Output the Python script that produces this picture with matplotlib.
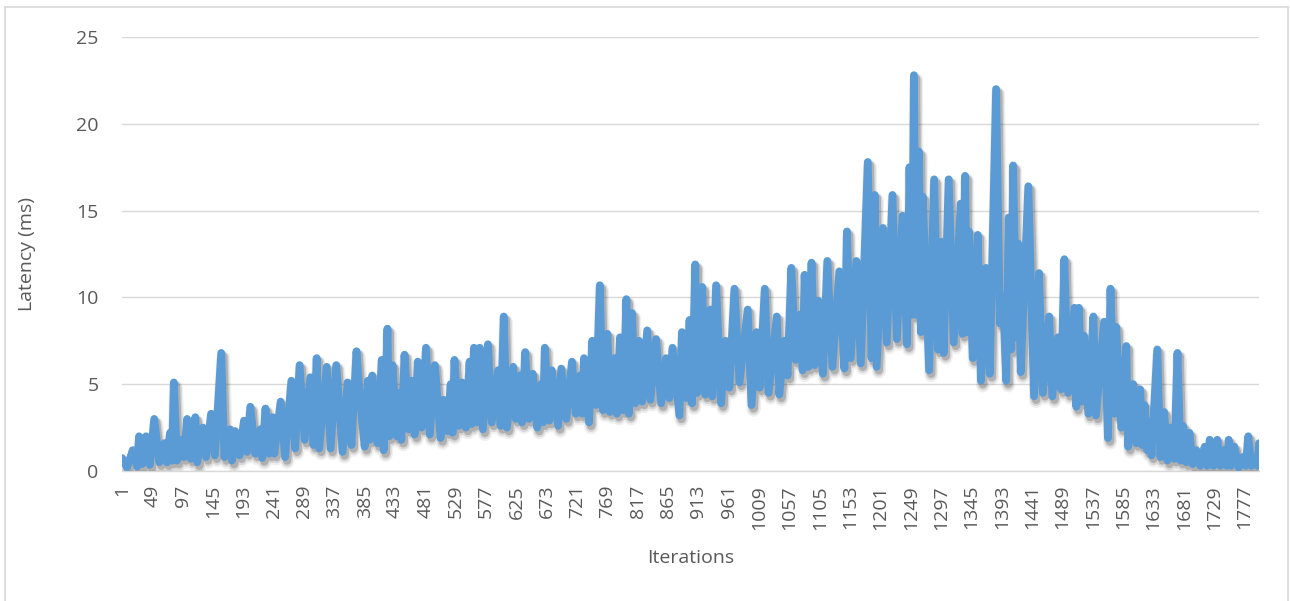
import matplotlib
matplotlib.use("Agg")
import matplotlib.pyplot as plt
import matplotlib.patheffects as pe
from matplotlib.lines import Line2D

# Readings (iteration, latency in ms) taken along the peaks and troughs of the trace
iterations = [
    1, 9, 18, 25, 28, 33, 39, 45, 52, 60, 68, 72, 77, 80, 83, 88, 95, 99, 104, 110,
    117, 120, 129, 134, 142, 148, 158, 163, 172, 175, 180, 187, 194, 199, 204, 212,
    220, 223, 228, 234, 239, 242, 252, 259, 269, 275, 282, 290, 299, 304, 309, 313,
    325, 331, 340, 350, 358, 364, 372, 378, 385, 390, 393, 397, 405, 412, 415, 421,
    424, 429, 436, 439, 443, 448, 455, 459, 464, 469, 475, 482, 488, 496, 505, 510,
    516, 521, 524, 527, 534, 539, 545, 551, 554, 558, 562, 567, 572, 580, 586, 596,
    600, 605, 610, 620,
    624, 631, 634, 639, 645, 651, 658, 664, 667, 670, 677, 681, 691, 696, 704, 713,
    719, 726, 729, 732, 740, 745, 751, 757, 762, 769, 773, 780, 784, 789, 794, 799,
    803, 808, 813, 819, 824, 832, 837, 846, 854, 862, 867, 872, 883, 887, 894, 899,
    903, 908, 911, 919, 924, 932, 935,
    941, 949, 956, 962, 970, 978, 991, 997, 1005, 1010, 1018, 1024, 1037, 1041, 1049,
    1054, 1060, 1067, 1073, 1078, 1081, 1087, 1092, 1097, 1103, 1110, 1117, 1125, 1136,
    1144, 1148, 1154, 1163, 1170, 1181, 1187, 1192, 1195, 1205, 1211, 1220, 1227, 1236,
    1243, 1247, 1251, 1254, 1257, 1262, 1265, 1268, 1278, 1286, 1292, 1297, 1301, 1309,
    1317, 1328, 1331, 1335, 1338, 1341, 1347, 1355, 1360, 1368, 1374, 1384, 1390, 1395,
    1400, 1404, 1408, 1411, 1416, 1419, 1423, 1435, 1444, 1452, 1458, 1468, 1473, 1482,
    1487, 1492, 1498, 1508, 1511, 1515, 1520, 1523, 1530, 1538, 1542, 1555, 1561, 1565,
    1571, 1574, 1582, 1590, 1593, 1601, 1606, 1612, 1615, 1619, 1623, 1626, 1630, 1639,
    1644, 1650, 1655, 1661, 1666, 1671, 1676, 1680, 1685, 1690, 1695, 1701, 1707, 1714,
    1718, 1722, 1728, 1734, 1739, 1744, 1749, 1752, 1756, 1761, 1768, 1774, 1779, 1783,
    1788, 1795, 1798, 1800,
]
latency = [
    0.75, 0.2, 1.2, 0.25, 2.0, 0.4, 2.0, 0.35, 3.0, 0.5, 1.6, 0.5, 2.2, 0.6, 5.1, 0.6, 1.8, 0.8, 3.0, 0.7,
    3.1, 0.5, 2.5, 0.8, 3.3, 0.9, 6.8, 0.8, 2.4, 0.6, 2.3, 0.9, 2.9, 1.1, 3.7, 1.0,
    2.4, 0.75, 3.6, 1.0, 3.1, 1.0, 4.0, 0.8, 5.2, 1.3, 6.1, 1.8, 5.4, 1.5, 6.5, 1.3,
    6.0, 1.3, 6.1, 1.1, 5.1, 1.5, 6.9, 4.0, 1.4, 5.2, 1.8, 5.5, 1.6, 6.4, 1.2, 8.2,
    2.0, 6.1, 2.0, 4.5, 1.8, 6.7, 2.4, 5.2, 2.1, 6.3, 2.5, 7.1, 2.1, 6.1, 1.9, 4.1,
    2.3, 5.0, 2.2, 6.4, 2.6, 5.1, 2.5, 6.3, 2.7, 7.1, 2.8, 7.1, 2.4, 7.3, 2.8, 5.8,
    2.6, 8.9, 2.5, 6.0,
    3.0, 5.5, 2.8, 6.85, 3.0, 5.6, 2.5, 5.0, 2.8, 7.1, 2.9, 5.8, 2.6, 5.9, 3.0, 6.3,
    3.3, 5.5, 3.3, 6.5, 2.8, 7.5, 3.8, 10.7, 3.5, 7.9, 3.4, 6.5, 3.3, 7.7, 3.5, 9.9,
    3.3, 9.1, 3.9, 7.5, 4.0, 8.1, 4.1, 7.6, 3.9, 6.5, 4.2, 7.1, 3.2, 8.0, 4.2, 8.7,
    3.9, 11.9, 4.5, 10.6, 4.4, 9.3, 4.3,
    10.7, 3.9, 7.5, 4.8, 10.5, 5.1, 9.3, 3.8, 8.0, 4.8, 10.5, 4.5, 8.9, 4.4, 7.5,
    5.5, 11.7, 6.4, 9.0, 5.8, 11.3, 6.0, 12.0, 6.1, 9.8, 5.6, 12.1, 6.0, 11.5,
    5.9, 13.8, 6.5, 12.1, 6.2, 17.8, 6.5, 15.9, 6.0, 14.0, 7.4, 15.9, 7.6, 14.7,
    7.3, 17.5, 9.0, 22.8, 9.0, 18.4, 8.0, 15.8, 5.8, 16.8, 7.0, 13.2, 6.8, 16.8,
    7.4, 15.4, 7.9, 17.0, 8.0, 13.8, 6.5, 13.6, 5.2, 11.7, 5.6, 22.0, 8.5, 10.0,
    5.2, 14.6, 7.0, 17.6, 7.7, 13.1, 5.7, 16.4, 4.3, 11.4, 4.5, 8.9, 4.3, 7.7,
    4.7, 12.2, 4.5, 9.4, 3.7, 9.4, 4.0, 7.8, 3.3, 8.9, 3.2, 8.6, 1.9, 10.5,
    3.3, 8.3, 2.5, 7.2, 1.4, 5.0, 1.6, 4.7, 1.5, 3.8, 1.2, 2.8, 0.9, 7.0,
    0.8, 3.4, 0.6, 2.5, 0.7, 6.8, 0.6, 2.6, 0.5, 2.2, 0.4, 1.2, 0.3, 1.4,
    0.3, 1.8, 0.3, 1.8, 0.3, 1.2, 0.3, 1.8, 0.3, 1.4, 0.2, 0.8, 0.3, 2.0,
    0.3, 0.8, 0.3, 1.6,
]
tick_labels = list(range(1, 1778, 48))
y_ticks = [0, 5, 10, 15, 20, 25]
n_iterations = 1800

plt.rcParams["font.family"] = ["Open Sans", "DejaVu Sans"]
text_color = "#595959"
grid_color = "#D9D9D9"
line_color = "#5B9BD5"

W, H = 1290, 601
fig = plt.figure(figsize=(W / 100, H / 100), dpi=100)
fig.patch.set_facecolor("white")

# outer chart border
fig.add_artist(Line2D([5 / W, 5 / W], [0, 1 - 7 / H], color=grid_color, lw=1.2, transform=fig.transFigure))
fig.add_artist(Line2D([5 / W, 1288 / W], [1 - 7 / H, 1 - 7 / H], color=grid_color, lw=1.2, transform=fig.transFigure))
fig.add_artist(Line2D([1288 / W, 1288 / W], [0, 1 - 7 / H], color=grid_color, lw=1.2, transform=fig.transFigure))

left, right, top, bottom = 122, 1259, 37, 471
ax = fig.add_axes([left / W, 1 - bottom / H, (right - left) / W, (bottom - top) / H])
ax.set_facecolor("none")

ax.plot(
    iterations, latency, color=line_color, lw=5.6,
    solid_capstyle="round", solid_joinstyle="round", zorder=3,
    path_effects=[
        pe.SimpleLineShadow(offset=(1.5, -3.5), shadow_color="black", alpha=0.06, linewidth=10),
        pe.SimpleLineShadow(offset=(1.5, -3), shadow_color="black", alpha=0.10, linewidth=8),
        pe.SimpleLineShadow(offset=(1.5, -2.5), shadow_color="black", alpha=0.18, linewidth=6),
        pe.Normal(),
    ],
)

ax.set_xlim(1, n_iterations)
ax.set_ylim(0, 25)
ax.set_yticks(y_ticks)
ax.set_xticks(tick_labels)
ax.set_xticklabels([str(t) for t in tick_labels], rotation=90, va="top", ha="center")
ax.tick_params(axis="both", length=0, labelsize=14, colors=text_color)
ax.tick_params(axis="x", pad=10)
ax.tick_params(axis="y", pad=17)
ax.grid(axis="y", color=grid_color, lw=1.0, zorder=0)
ax.set_axisbelow(True)
for s in ["left", "right", "top"]:
    ax.spines[s].set_visible(False)
ax.spines["bottom"].set_color(grid_color)
ax.spines["bottom"].set_linewidth(1.0)

ax.set_xlabel("Iterations", fontsize=14, color=text_color)
ax.set_ylabel("Latency (ms)", fontsize=14, color=text_color)
ax.xaxis.set_label_coords(0.5, -(549 - bottom) / (bottom - top), transform=ax.transAxes)
ax.yaxis.set_label_coords(-(left - 36) / (right - left), 0.5, transform=ax.transAxes)

fig.savefig("out.png", dpi=100)
